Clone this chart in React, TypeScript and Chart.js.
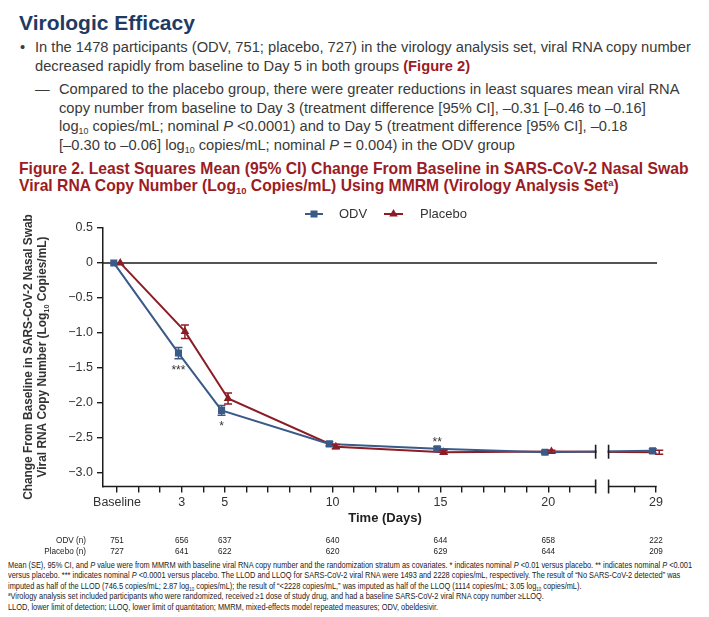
import React, { useEffect, useRef } from "react";
import { Chart, registerables } from "chart.js";

Chart.register(...registerables);

// ---------- data ----------
const days = [0, 3, 5, 10, 15, 20, 29];
const labeledDays = [0, 3, 5, 10, 15, 20, 29];
const tickDays = [0, 1, 2, 3, 4, 5, 6, 7, 8, 9, 10, 11, 12, 13, 14, 15, 16, 17, 18, 19, 20, 21, 28, 29];
const yTicks = [0.5, 0, -0.5, -1.0, -1.5, -2.0, -2.5, -3.0];

const odvMean = [0, -1.29, -2.11, -2.59, -2.66, -2.71, -2.69];
const odvLower = [0, -1.37, -2.18, -2.62, -2.69, -2.73, -2.72];
const odvUpper = [0, -1.21, -2.04, -2.56, -2.63, -2.69, -2.66];

const placeboMean = [0, -0.98, -1.94, -2.63, -2.71, -2.70, -2.71];
const placeboLower = [0, -1.08, -2.02, -2.66, -2.74, -2.72, -2.74];
const placeboUpper = [0, -0.89, -1.86, -2.60, -2.68, -2.68, -2.68];

const odvN = [751, 656, 637, 640, 644, 658, 222];
const placeboN = [727, 641, 622, 620, 629, 644, 209];

const odvSignif = ["", "***", "*", "", "**", "", ""];
const odvSignifSide = ["", "below", "below", "", "above", "", ""];

// ---------- style ----------
const BLUE = "#3a5a87";
const RED = "#8c1c25";
const NAVY = "#1f3b63";
const FIGRED = "#9b1c24";
const AXIS = "#1c1c1c";
const TXT = "#333333";
const REG = '"Liberation Sans", Arial, Helvetica, sans-serif';
const CANVAS_TOP = 200;
const BREAK_L = 22.2;
const BREAK_R = 22.8;
const DODGE = 0.15;

// compressed axis: days 22..27 removed by the axis break
function axisPos(day: number): number {
  return day <= 22 ? day : day - 4;
}

const posLabel = new Map<number, string>(
  labeledDays.map((d) => [axisPos(d), d === 0 ? "Baseline" : String(d)])
);

function fmtY(v: number): string {
  if (v === 0) return "0";
  const s = Math.abs(v).toFixed(1);
  return v < 0 ? "\u2212" + s : s;
}

type Seg = { t: string; sub?: boolean };

function drawRich(
  ctx: CanvasRenderingContext2D,
  segs: Seg[],
  cx: number,
  cy: number,
  size: number,
  family: string,
  weight: string,
  squeeze: number
) {
  const big = `${weight} ${size}px ${family}`;
  const small = `${weight} ${size * 0.62}px ${family}`;
  let total = 0;
  segs.forEach((s) => {
    ctx.font = s.sub ? small : big;
    total += ctx.measureText(s.t).width;
  });
  ctx.save();
  ctx.translate(cx, cy);
  ctx.scale(squeeze, 1);
  let x = -total / 2;
  ctx.textAlign = "left";
  ctx.textBaseline = "middle";
  segs.forEach((s) => {
    ctx.font = s.sub ? small : big;
    ctx.fillText(s.t, x, s.sub ? size * 0.28 : 0);
    x += ctx.measureText(s.t).width;
  });
  ctx.restore();
}

const overlayPlugin = {
  id: "overlay",
  beforeDatasetsDraw(chart: any) {
    const { ctx, chartArea } = chart;
    const xs = chart.scales.x;
    const ys = chart.scales.y;
    const y0 = ys.getPixelForValue(0);
    ctx.save();
    ctx.strokeStyle = AXIS;
    ctx.lineWidth = 1.5;
    ctx.beginPath();
    ctx.moveTo(chartArea.left, y0);
    ctx.lineTo(xs.getPixelForValue(axisPos(29)) + 1, y0);
    ctx.stroke();
    ctx.restore();
  },
  afterDatasetsDraw(chart: any) {
    const { ctx, chartArea } = chart;
    const xs = chart.scales.x;
    const ys = chart.scales.y;
    ctx.save();

    // error bars
    const sets = [
      { lo: odvLower, hi: odvUpper, color: BLUE },
      { lo: placeboLower, hi: placeboUpper, color: RED },
    ];
    sets.forEach((s, di) => {
      const meta = chart.getDatasetMeta(di);
      meta.data.forEach((pt: any, i: number) => {
        const yl = ys.getPixelForValue(s.lo[i]);
        const yh = ys.getPixelForValue(s.hi[i]);
        if (Math.abs(yl - yh) < 0.5) return;
        ctx.strokeStyle = s.color;
        ctx.lineWidth = 1.5;
        ctx.beginPath();
        ctx.moveTo(pt.x, yl);
        ctx.lineTo(pt.x, yh);
        ctx.moveTo(pt.x - 4, yl);
        ctx.lineTo(pt.x + 4, yl);
        ctx.moveTo(pt.x - 4, yh);
        ctx.lineTo(pt.x + 4, yh);
        ctx.stroke();
      });
    });

    // break on data lines
    const bl = xs.getPixelForValue(BREAK_L);
    const br = xs.getPixelForValue(BREAK_R);
    const yAt = [0, 1].map((di) => {
      const m = chart.getDatasetMeta(di);
      const a = m.data[5];
      const b = m.data[6];
      const t = ((bl + br) / 2 - a.x) / (b.x - a.x);
      return a.y + t * (b.y - a.y);
    });
    const ymid = (yAt[0] + yAt[1]) / 2;
    ctx.fillStyle = "#ffffff";
    ctx.fillRect(bl + 1, ymid - 8, br - bl - 2, 16);
    ctx.strokeStyle = AXIS;
    ctx.lineWidth = 1.6;
    [bl, br].forEach((x) => {
      ctx.beginPath();
      ctx.moveTo(x, ymid - 7);
      ctx.lineTo(x, ymid + 7);
      ctx.stroke();
    });

    // x axis line with break
    const yb = chartArea.bottom;
    const xr = xs.getPixelForValue(axisPos(29));
    ctx.lineWidth = 1.5;
    ctx.beginPath();
    ctx.moveTo(chartArea.left, yb);
    ctx.lineTo(bl, yb);
    ctx.moveTo(br, yb);
    ctx.lineTo(xr + 0.75, yb);
    ctx.stroke();
    ctx.lineWidth = 1.6;
    [bl, br].forEach((x) => {
      ctx.beginPath();
      ctx.moveTo(x, yb - 7);
      ctx.lineTo(x, yb + 7);
      ctx.stroke();
    });

    // significance markers
    const odvMeta = chart.getDatasetMeta(0);
    ctx.fillStyle = TXT;
    ctx.font = `12px ${REG}`;
    ctx.textAlign = "center";
    ctx.textBaseline = "alphabetic";
    odvSignif.forEach((lab, i) => {
      if (!lab) return;
      const pt = odvMeta.data[i];
      if (odvSignifSide[i] === "below") {
        ctx.fillText(lab, pt.x, ys.getPixelForValue(odvLower[i]) + 15);
      } else {
        ctx.fillText(lab, pt.x, ys.getPixelForValue(odvUpper[i]) - 1);
      }
    });

    ctx.restore();
  },
  afterDraw(chart: any) {
    const { ctx } = chart;
    const xs = chart.scales.x;
    ctx.save();

    // legend
    const ly = 214 - CANVAS_TOP;
    ctx.lineWidth = 2;
    ctx.strokeStyle = BLUE;
    ctx.beginPath();
    ctx.moveTo(305, ly);
    ctx.lineTo(323, ly);
    ctx.stroke();
    ctx.fillStyle = BLUE;
    ctx.fillRect(310.5, ly - 3.5, 7, 7);
    ctx.strokeStyle = RED;
    ctx.beginPath();
    ctx.moveTo(384, ly);
    ctx.lineTo(403, ly);
    ctx.stroke();
    ctx.fillStyle = RED;
    ctx.beginPath();
    ctx.moveTo(393.5, ly - 5);
    ctx.lineTo(397.8, ly + 2.5);
    ctx.lineTo(389.2, ly + 2.5);
    ctx.closePath();
    ctx.fill();
    ctx.fillStyle = TXT;
    ctx.font = `13px ${REG}`;
    ctx.textAlign = "left";
    ctx.textBaseline = "middle";
    ctx.fillText("ODV", 339, ly + 0.5);
    ctx.fillText("Placebo", 420, ly + 0.5);

    // y axis title
    const cy = 357 - CANVAS_TOP;
    ctx.fillStyle = TXT;
    ctx.save();
    ctx.translate(29, cy);
    ctx.rotate(-Math.PI / 2);
    drawRich(ctx, [{ t: "Change From Baseline in SARS-CoV-2 Nasal Swab" }], 0, 0, 12.5, REG, "bold", 0.95);
    ctx.restore();
    ctx.save();
    ctx.translate(43, cy);
    ctx.rotate(-Math.PI / 2);
    drawRich(
      ctx,
      [{ t: "Viral RNA Copy Number (Log" }, { t: "10", sub: true }, { t: " Copies/mL)" }],
      0,
      0,
      12.5,
      REG,
      "bold",
      0.95
    );
    ctx.restore();

    // x axis title
    ctx.fillStyle = "#222";
    ctx.font = `bold 13px ${REG}`;
    ctx.textAlign = "center";
    ctx.textBaseline = "middle";
    ctx.fillText("Time (Days)", 385, 518 - CANVAS_TOP);

    // n table
    const rowY = [540 - CANVAS_TOP, 551 - CANVAS_TOP];
    ctx.fillStyle = "#222";
    ctx.font = `9.5px ${REG}`;
    const drawSq = (t: string, x: number, y: number, align: string) => {
      ctx.save();
      ctx.translate(x, y);
      ctx.scale(0.86, 1);
      ctx.textAlign = align as CanvasTextAlign;
      ctx.fillText(t, 0, 0);
      ctx.restore();
    };
    drawSq("ODV (n)", 86, rowY[0], "right");
    drawSq("Placebo (n)", 86, rowY[1], "right");
    days.forEach((d, i) => {
      const x = xs.getPixelForValue(axisPos(d));
      drawSq(String(odvN[i]), x, rowY[0], "center");
      drawSq(String(placeboN[i]), x, rowY[1], "center");
    });

    ctx.restore();
  },
};

function ChartBlock() {
  const ref = useRef<HTMLCanvasElement | null>(null);
  useEffect(() => {
    if (!ref.current) return;
    const chart = new Chart(ref.current, {
      type: "line",
      data: {
        datasets: [
          {
            label: "ODV",
            data: days.map((d, i) => ({ x: axisPos(d) - DODGE, y: odvMean[i] })),
            borderColor: BLUE,
            backgroundColor: BLUE,
            borderWidth: 2,
            pointStyle: "rect",
            pointRadius: 5,
            pointBorderWidth: 0,
            tension: 0,
          },
          {
            label: "Placebo",
            data: days.map((d, i) => ({ x: axisPos(d) + DODGE, y: placeboMean[i] })),
            borderColor: RED,
            backgroundColor: RED,
            borderWidth: 2,
            pointStyle: "triangle",
            pointRadius: 5,
            pointBorderWidth: 0,
            tension: 0,
          },
        ],
      },
      options: {
        animation: false,
        responsive: false,
        maintainAspectRatio: false,
        layout: { padding: { left: 0, right: 709 - 656, top: 228 - CANVAS_TOP, bottom: 0 } },
        plugins: { legend: { display: false }, tooltip: { enabled: false } },
        scales: {
          x: {
            type: "linear",
            min: -0.65,
            max: 25,
            afterBuildTicks: (s: any) => {
              s.ticks = tickDays.map((d) => ({ value: axisPos(d) }));
            },
            afterFit: (s: any) => {
              s.height = 560 - 486.5;
            },
            ticks: {
              autoSkip: false,
              maxRotation: 0,
              minRotation: 0,
              padding: 3,
              color: TXT,
              font: { family: REG, size: 12.5 },
              callback: (v: any) => posLabel.get(Number(v)) ?? "",
            },
            grid: {
              drawOnChartArea: false,
              drawTicks: true,
              tickLength: 6,
              color: AXIS,
              lineWidth: 1.4,
            },
            border: { display: false },
          },
          y: {
            min: -3.2,
            max: 0.5,
            afterBuildTicks: (s: any) => {
              s.ticks = yTicks.map((v) => ({ value: v }));
            },
            afterFit: (s: any) => {
              s.width = 103;
            },
            ticks: {
              padding: 4,
              color: TXT,
              font: { family: REG, size: 12.5 },
              callback: (v: any) => fmtY(Number(v)),
            },
            grid: {
              drawOnChartArea: false,
              drawTicks: true,
              tickLength: 6,
              color: AXIS,
              lineWidth: 1.4,
            },
            border: { display: true, color: AXIS, width: 1.5 },
          },
        },
      },
      plugins: [overlayPlugin],
    } as any);
    return () => chart.destroy();
  }, []);
  return (
    <canvas
      ref={ref}
      width={709}
      height={360}
      style={{ position: "absolute", left: 0, top: CANVAS_TOP, width: 709, height: 360 }}
    />
  );
}

const Sub = ({ children }: { children: React.ReactNode }) => (
  <span style={{ fontSize: "0.6em", verticalAlign: "-0.3em", lineHeight: 0 }}>{children}</span>
);
const Sup = ({ children }: { children: React.ReactNode }) => (
  <span style={{ fontSize: "0.6em", verticalAlign: "0.5em", lineHeight: 0 }}>{children}</span>
);
const I = ({ children }: { children: React.ReactNode }) => <i>{children}</i>;

// one text line, vertically centred on cy
function Line({
  x,
  cy,
  size,
  h,
  style,
  children,
}: {
  x: number;
  cy: number;
  size: number;
  h: number;
  style?: React.CSSProperties;
  children: React.ReactNode;
}) {
  return (
    <div
      style={{
        position: "absolute",
        left: x,
        top: cy - h / 2,
        height: h,
        lineHeight: `${h}px`,
        fontSize: size,
        whiteSpace: "nowrap",
        ...style,
      }}
    >
      {children}
    </div>
  );
}

export default function App() {
  const bodyStyle: React.CSSProperties = { color: "#3a3a3a" };
  const figStyle: React.CSSProperties = { color: FIGRED, fontWeight: 700 };
  const BS = 14.7;
  const FS = 15.7;
  const foot: React.CSSProperties = {
    position: "absolute",
    left: 8,
    top: 560,
    fontFamily: REG,
    fontSize: 8.6,
    lineHeight: "10.4px",
    color: "#222",
    whiteSpace: "nowrap",
    transform: "scaleX(0.86)",
    transformOrigin: "0 0",
  };
  return (
    <div
      style={{
        position: "absolute",
        left: 0,
        top: 0,
        width: 709,
        height: 617,
        background: "#ffffff",
        overflow: "hidden",
        fontFamily: REG,
      }}
    >
      <Line x={19} cy={23} size={21} h={24} style={{ fontWeight: 700, color: NAVY }}>
        Virologic Efficacy
      </Line>

      <Line x={20} cy={47} size={BS} h={18} style={bodyStyle}>•</Line>
      <Line x={35} cy={47} size={BS} h={18} style={bodyStyle}>
        In the 1478 participants (ODV, 751; placebo, 727) in the virology analysis set, viral RNA copy number
      </Line>
      <Line x={35} cy={66} size={BS} h={18} style={bodyStyle}>
        decreased rapidly from baseline to Day 5 in both groups <b style={{ color: FIGRED }}>(Figure 2)</b>
      </Line>

      <Line x={35} cy={89} size={BS} h={18} style={bodyStyle}>—</Line>
      <Line x={59} cy={89} size={BS} h={18} style={bodyStyle}>
        Compared to the placebo group, there were greater reductions in least squares mean viral RNA
      </Line>
      <Line x={59} cy={107.5} size={BS} h={18} style={bodyStyle}>
        copy number from baseline to Day 3 (treatment difference [95% CI], –0.31 [–0.46 to –0.16]
      </Line>
      <Line x={59} cy={126} size={BS} h={18} style={bodyStyle}>
        log<Sub>10</Sub> copies/mL; nominal <I>P</I> &lt;0.0001) and to Day 5 (treatment difference [95% CI], –0.18
      </Line>
      <Line x={59} cy={144.5} size={BS} h={18} style={bodyStyle}>
        [–0.30 to –0.06] log<Sub>10</Sub> copies/mL; nominal <I>P</I> = 0.004) in the ODV group
      </Line>

      <Line x={19} cy={168} size={FS} h={17} style={figStyle}>
        Figure 2. Least Squares Mean (95% CI) Change From Baseline in SARS-CoV-2 Nasal Swab
      </Line>
      <Line x={19} cy={185} size={FS} h={17} style={figStyle}>
        Viral RNA Copy Number (Log<Sub>10</Sub> Copies/mL) Using MMRM (Virology Analysis Set<Sup>a</Sup>)
      </Line>

      <ChartBlock />

      <div style={foot}>
        Mean (SE), 95% CI, and <I>P</I> value were from MMRM with baseline viral RNA copy number and the randomization
        stratum as covariates. * indicates nominal <I>P</I> &lt;0.01 versus placebo. ** indicates nominal <I>P</I> &lt;0.001
        <br />
        versus placebo. *** indicates nominal <I>P</I> &lt;0.0001 versus placebo. The LLOD and LLOQ for SARS-CoV-2 viral
        RNA were 1493 and 2228 copies/mL, respectively. The result of “No SARS-CoV-2 detected” was
        <br />
        imputed as half of the LLOD (746.5 copies/mL; 2.87 log<Sub>10</Sub> copies/mL); the result of “&lt;2228
        copies/mL,” was imputed as half of the LLOQ (1114 copies/mL; 3.05 log<Sub>10</Sub> copies/mL).
        <br />
        <Sup>a</Sup>Virology analysis set included participants who were randomized, received ≥1 dose of study drug, and
        had a baseline SARS-CoV-2 viral RNA copy number ≥LLOQ.
        <br />
        LLOD, lower limit of detection; LLOQ, lower limit of quantitation; MMRM, mixed-effects model repeated measures;
        ODV, obeldesivir.
      </div>
    </div>
  );
}
